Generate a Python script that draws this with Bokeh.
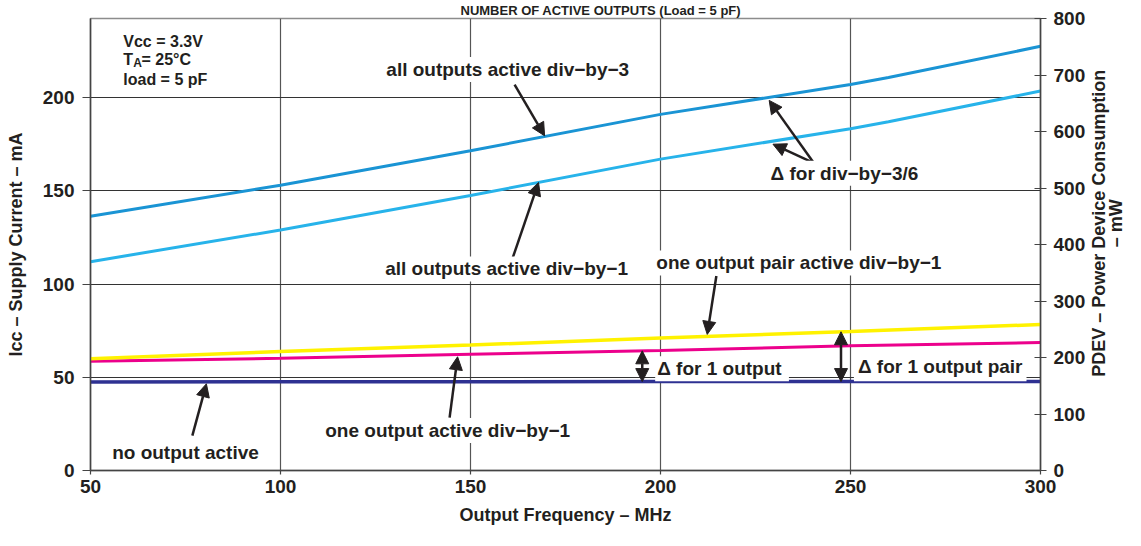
import math
import numpy as np
from bokeh.plotting import figure
from bokeh.layouts import row
from bokeh.core.properties import value
from bokeh.models import Range1d, LinearAxis, FixedTicker, Label, Arrow, NormalHead
from bokeh.embed import file_html
from bokeh.resources import INLINE

# ---- data ----
freq = [50, 100, 150, 200, 250, 260, 300]
all_div3 = [136.4, 153.0, 171.5, 191.0, 207.0, 210.8, 227.5]
all_div1 = [112.0, 129.0, 147.5, 167.0, 183.3, 187.0, 203.5]

freq_lin = [50, 100, 150, 200, 250, 300]
pair_div1 = [60.0, 63.8, 67.3, 71.0, 74.6, 78.3]
one_div1 = [58.6, 60.2, 62.3, 64.4, 66.9, 68.6]
no_output = [47.5, 47.6, 47.6, 47.7, 47.7, 47.8]

x_ticks = [50, 100, 150, 200, 250, 300]
y_ticks = [0, 50, 100, 150, 200]
pw_ticks = [0, 100, 200, 300, 400, 500, 600, 700, 800]
VCC = 3.3
PW_MAX = 800

right_title_lines = ["PDEV – Power Device Consumption", "– mW"]

FONT = "Liberation Sans"
TXT = "#231f20"
H = 530

p = figure(width=1088, height=H, output_backend="svg", toolbar_location=None,
           x_range=Range1d(50, 300), y_range=Range1d(0, PW_MAX / VCC),
           min_border_left=90, min_border_right=46, min_border_top=17, min_border_bottom=60)
p.extra_y_ranges = {"pw": Range1d(0, PW_MAX)}
p.background_fill_color = "white"
p.outline_line_color = "#8c8c8c"
p.outline_line_width = 1.5

p.title.text = "NUMBER OF ACTIVE OUTPUTS (Load = 5 pF)"
p.title.align = "left"
p.title.offset = 370
p.title.standoff = 1
p.title.text_font = FONT
p.title.text_font_style = "bold"
p.title.text_font_size = "13px"
p.title.text_color = TXT

# grid
p.xgrid.ticker = FixedTicker(ticks=x_ticks)
p.ygrid.ticker = FixedTicker(ticks=y_ticks)
p.xgrid.grid_line_color = "#555555"
p.ygrid.grid_line_color = "#333333"
p.xgrid.grid_line_width = 1.2
p.ygrid.grid_line_width = 1.2

def style_axis(ax, label, tick_in=0, tick_out=7):
    ax.axis_label = label
    ax.axis_label_text_font = FONT
    ax.axis_label_text_font_style = "bold"
    ax.axis_label_text_font_size = "18px"
    ax.axis_label_text_color = TXT
    ax.major_label_text_font = FONT
    ax.major_label_text_font_style = "bold"
    ax.major_label_text_font_size = "19px"
    ax.major_label_text_color = TXT
    ax.axis_line_color = "#444444"
    ax.axis_line_width = 1.5
    ax.major_tick_line_color = "#444444"
    ax.major_tick_line_width = 1.2
    ax.major_tick_in = tick_in
    ax.major_tick_out = tick_out
    ax.minor_tick_line_color = None

xa = p.xaxis[0]
xa.ticker = FixedTicker(ticks=x_ticks)
style_axis(xa, "Output Frequency – MHz", tick_in=0, tick_out=4)
xa.major_label_standoff = 5
xa.axis_label_standoff = 9

ya = p.yaxis[0]
ya.ticker = FixedTicker(ticks=y_ticks)
style_axis(ya, "Icc – Supply Current – mA", tick_in=0, tick_out=8)
ya.major_label_standoff = 8
ya.axis_label_standoff = 14

ra = LinearAxis(y_range_name="pw", ticker=FixedTicker(ticks=pw_ticks))
style_axis(ra, None, tick_in=6, tick_out=6)
ra.major_label_standoff = 7
p.add_layout(ra, "right")

# curves
p.line(freq_lin, no_output, line_color="#2e3192", line_width=3.5)
p.line(freq_lin, one_div1, line_color="#ec008c", line_width=3)
p.line(freq_lin, pair_div1, line_color="#fff200", line_width=3.5)
p.line(freq, all_div1, line_color="#27b3ea", line_width=3)
p.line(freq, all_div3, line_color="#1a94d4", line_width=3)

def label(x, y, text, align="center", bg="white", size="19px", style="bold",
          baseline="middle", padding=2):
    lb = Label(x=x, y=y, text=text, text_align=align, text_baseline=baseline,
               text_font=FONT, text_font_style=style, text_font_size=size,
               text_color=TXT, background_fill_color=bg, padding=padding)
    p.add_layout(lb)
    return lb

def arrow(x0, y0, x1, y1, both=False):
    head = lambda: NormalHead(size=13, fill_color=TXT, line_color=TXT, line_width=1)
    a = Arrow(x_start=x0, y_start=y0, x_end=x1, y_end=y1, end=head(),
              start=head() if both else None, line_color=TXT, line_width=2.5)
    p.add_layout(a)

# arrows
arrow(161.6, 207.0, 169.5, 179.5)
arrow(161.1, 114.0, 167.9, 154.5)
arrow(240.4, 164.8, 228.6, 198.5)
arrow(240.4, 164.8, 229.6, 175.0)
arrow(214.7, 104.3, 212.3, 73.0)
arrow(144.5, 28.4, 146.6, 61.0)
arrow(76.8, 18.7, 80.5, 46.5)
fa, fb = 195.2, 247.5
arrow(fa, float(np.interp(fa, freq_lin, one_div1)), fa, float(np.interp(fa, freq_lin, no_output)), both=True)
arrow(fb, float(np.interp(fb, freq_lin, pair_div1)), fb, float(np.interp(fb, freq_lin, no_output)), both=True)

# annotation labels
label(159.8, 215.1, "all outputs active div−by−3")
label(159.5, 108.1, "all outputs active div−by−1")
label(248.4, 159.4, "Δ for div−by−3/6")
label(236.4, 111.3, "one output pair active div−by−1")
label(144.0, 21.4, "one output active div−by−1")
label(75.0, 9.6, "no output active")
label(198.6, 54.6, "Δ  for 1 output", align="left")
label(250.9, 55.6, "Δ for 1 output pair", align="left", padding=4)

# conditions box
label(58.1, 230.1, "Vcc = 3.3V", align="left", bg=None, size="16px")
label(58.1, 220.4, "T", align="left", bg=None, size="16px")
label(60.7, 218.5, "A", align="left", bg=None, size="12px")
label(62.9, 220.4, " = 25°C", align="left", bg=None, size="16px")
label(58.1, 209.7, "load = 5 pF", align="left", bg=None, size="16px")

# right-hand axis title: a narrow companion panel with vertical text
W2 = 37
p2 = figure(width=W2, height=H, output_backend="svg", toolbar_location=None,
            x_range=Range1d(0, W2), y_range=Range1d(0, H),
            x_axis_type=None, y_axis_type=None, min_border=0)
p2.grid.visible = False
p2.outline_line_color = None
p2.text(x=[10, 27], y=[H - 240, H - 240], text=right_title_lines, angle=math.pi / 2,
        text_align="center", text_baseline="middle", text_font=value(FONT),
        text_font_style="bold", text_font_size="18px", text_color=TXT)

layout = row(p, p2, spacing=0)
open("out.html", "w").write(file_html(layout, INLINE))
